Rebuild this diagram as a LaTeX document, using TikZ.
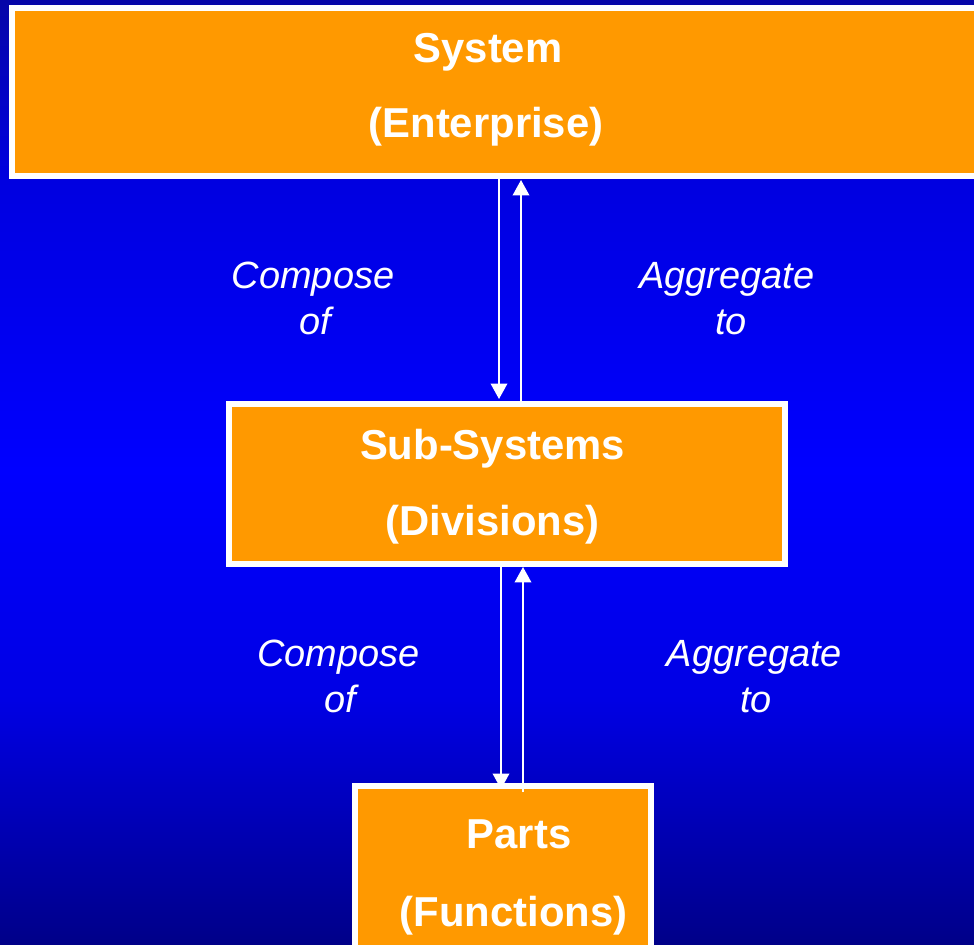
\documentclass[tikz,border=0pt]{standalone}
\usepackage{fontspec}
\setmainfont{Liberation Sans}
\usetikzlibrary{arrows.meta}
\definecolor{boxorange}{HTML}{FF9900}
\definecolor{bgA}{HTML}{0606A8}
\definecolor{bgB}{HTML}{0000E0}
\definecolor{bgC}{HTML}{0000FF}
\definecolor{bgD}{HTML}{0000E4}
\definecolor{bgE}{HTML}{000088}
\tikzset{
  box/.style={draw=white, fill=boxorange, line width=3.4pt, rectangle, inner sep=0pt},
  flow/.style={draw=white, line width=1.2pt, -{Triangle[width=0.33cm,length=0.31cm]}},
  titletext/.style={text=white, anchor=base, inner sep=0pt, font=\fontsize{23.8pt}{28pt}\selectfont\bfseries},
  relntext/.style={text=white, anchor=base, inner sep=0pt, font=\fontsize{21.6pt}{26pt}\selectfont\itshape},
}
\begin{document}
\begin{tikzpicture}[x=0.02cm, y=-0.02cm]
  \useasboundingbox (0,0) rectangle (974,945);
  % background: vertical blue gradient, dark at both ends
  \shade[top color=bgA, bottom color=bgB] (0,0) rectangle (974,181);
  \shade[top color=bgB, bottom color=bgC] (0,180) rectangle (974,471);
  \shade[top color=bgC, bottom color=bgD] (0,470) rectangle (974,701);
  \shade[top color=bgD, bottom color=bgE] (0,700) rectangle (974,945);

  % the three levels
  \node[box, minimum width={978*0.02cm}, minimum height={168*0.02cm}] (sys) at (501,92) {};
  \node[box, minimum width={556*0.02cm}, minimum height={160*0.02cm}] (sub) at (507,484) {};
  \node[box, minimum width={296*0.02cm}, minimum height={174*0.02cm}] (parts) at (503,873) {};

  % columns of the connectors
  \coordinate (d1) at (499,0);
  \coordinate (u1) at (521,0);
  \coordinate (d2) at (501,0);
  \coordinate (u2) at (523,0);

  \draw[flow, shorten >=0.04cm] (sys.south -| d1) -- (sub.north -| d1);
  \draw[flow, shorten >=0.02cm] (sub.north -| u1) -- (sys.south -| u1);
  \draw[flow, shorten >=-0.12cm] (sub.south -| d2) -- (parts.north -| d2);
  \draw[flow, shorten <=-0.18cm] (parts.north -| u2) -- (sub.south -| u2);

  % box titles
  \node[titletext] (sysA) at (488,62.7) {System};
  \node[titletext] (sysB) at (486,138) {(Enterprise)};
  \node[titletext] (subA) at (492.5,459.5) {Sub-Systems};
  \node[titletext] (subB) at (492.5,536) {(Divisions)};
  \node[titletext] (partsA) at (519,848.3) {Parts};
  \node[titletext] (partsB) at (513.5,926.7) {(Functions)};

  % relation labels
  \node[relntext] (c1a) at (313,289) {Compose};
  \node[relntext] (c1b) at (315,335) {of};
  \node[relntext] (a1a) at (727,289) {Aggregate};
  \node[relntext] (a1b) at (731,335) {to};
  \node[relntext] (c2a) at (338.5,666) {Compose};
  \node[relntext] (c2b) at (340,712) {of};
  \node[relntext] (a2a) at (754.5,666) {Aggregate};
  \node[relntext] (a2b) at (756,712) {to};
\end{tikzpicture}
\end{document}
